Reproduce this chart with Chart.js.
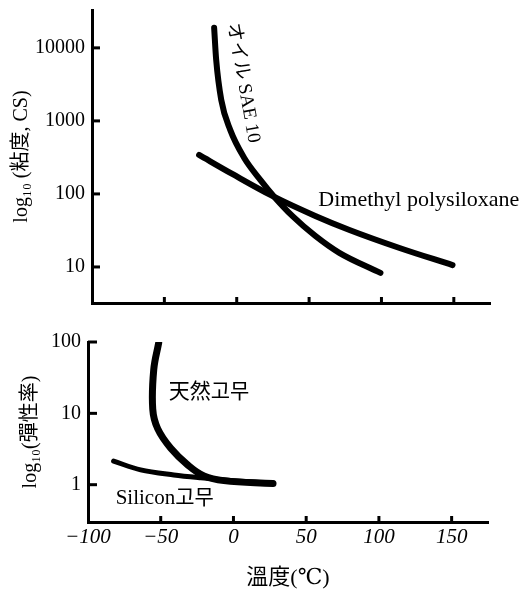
<!DOCTYPE html>
<html><head><meta charset="utf-8">
<script src="https://cdn.jsdelivr.net/npm/chart.js@4.4.0/dist/chart.umd.min.js"></script>
<style>html,body{margin:0;padding:0;background:#fff;} canvas{display:block;}</style>
</head><body>
<canvas id="top" width="526" height="312"></canvas>
<canvas id="bot" width="526" height="290"></canvas>
<script>
// ---- data ----
const xTicks = [-100, -50, 0, 50, 100, 150];
const viscTicks = [10, 100, 1000, 10000];
const elastTicks = [1, 10, 100];

const oilTemp = [-15.6, -14.2, -10.7, -4.5, 5.2, 16.3, 26.0, 38.4, 54.3, 70.9, 99.3];
const oilVisc = [18800, 6850, 1940, 754, 311, 156, 91, 50, 26.6, 15.6, 8.3];
const dmpsTemp = [-26.0, -3.1, 24.6, 54.3, 77.9, 112.5, 149.1];
const dmpsVisc = [342, 188, 94, 50, 32.1, 18.2, 10.6];
const rubberTemp = [-51.4, -54.8, -55.5, -52.1, -43.1, -31.4, -20.3, -6.6, 27.2];
const rubberMod = [97, 41, 11.5, 6.1, 3.24, 1.89, 1.33, 1.14, 1.04];
const siliconTemp = [-82.4, -63.8, -41.0, -22.4, 0.3, 27.2];
const siliconMod = [2.14, 1.61, 1.37, 1.25, 1.14, 1.04];

const topLabels = [
  {text: 'オイル SAE 10', x: 4.5, y: 3310, rot: 80, align: 'center', size: 19},
  {text: 'Dimethyl polysiloxane', x: 56.4, y: 83, rot: 0, align: 'left', size: 22}
];
const botLabels = [
  {text: '天然고무', x: -44.5, y: 19.8, rot: 0, align: 'left', size: 21},
  {text: 'Silicon고무', x: -81, y: 0.64, rot: 0, align: 'left', size: 21}
];

const SERIF = "'Liberation Serif', 'DejaVu Serif', 'Noto Sans CJK KR', serif";
Chart.defaults.color = '#000';
Chart.defaults.font.family = SERIF;

const pts = (xs, ys) => xs.map((v, i) => ({x: v, y: ys[i]}));

const inwardTicks = {
  id: 'inwardTicks',
  afterDraw(chart, args, opts) {
    const {ctx, chartArea: a, scales: {x, y}} = chart;
    ctx.save();
    ctx.strokeStyle = '#000';
    ctx.lineWidth = 3;
    y.ticks.forEach(t => {
      const py = y.getPixelForValue(t.value);
      ctx.beginPath(); ctx.moveTo(a.left, py); ctx.lineTo(a.left + opts.yLen, py); ctx.stroke();
    });
    x.ticks.forEach(t => {
      if (t.value === x.min) return;
      const px = x.getPixelForValue(t.value);
      ctx.beginPath(); ctx.moveTo(px, a.bottom); ctx.lineTo(px, a.bottom - opts.xLen); ctx.stroke();
    });
    ctx.restore();
  }
};

const textLabels = {
  id: 'textLabels',
  afterDatasetsDraw(chart, args, opts) {
    const {ctx, scales: {x, y}} = chart;
    ctx.save();
    ctx.fillStyle = '#000';
    opts.items.forEach(l => {
      const px = x.getPixelForValue(l.x), py = y.getPixelForValue(l.y);
      ctx.save();
      ctx.translate(px, py);
      ctx.rotate(l.rot * Math.PI / 180);
      ctx.font = l.size + 'px ' + SERIF;
      ctx.textAlign = l.align;
      ctx.textBaseline = 'middle';
      ctx.fillText(l.text, 0, 0);
      ctx.restore();
    });
    ctx.restore();
  }
};

function lineDs(data, w, mono) {
  const d = {data, borderColor: '#000', borderWidth: w, pointRadius: 0, tension: 0.4,
          borderCapStyle: 'round', fill: false};
  if (mono) d.cubicInterpolationMode = 'monotone';
  return d;
}

function xScale(showLabels, height, title) {
  return {
    type: 'linear', min: -100, max: 175,
    afterBuildTicks: s => { s.ticks = xTicks.map(v => ({value: v})); },
    afterFit: s => { s.height = height; },
    grid: {display: false, drawTicks: false},
    border: {display: true, color: '#000', width: 3},
    ticks: {display: showLabels, padding: 3, font: {size: 21, style: 'italic'},
            callback: v => (v < 0 ? '\u2212' + Math.abs(v) : '' + v)},
    title: title
  };
}

function yScale(min, max, ticks, width, titleText, titlePad) {
  return {
    type: 'logarithmic', min, max,
    afterBuildTicks: s => { s.ticks = ticks.map(v => ({value: v})); },
    afterFit: s => { s.width = width; s.paddingTop = 0; s.paddingBottom = 0; },
    grid: {display: false, drawTicks: false},
    border: {display: true, color: '#000', width: 3},
    ticks: {padding: 7, font: {size: 20, lineHeight: 1}, callback: v => '' + v},
    title: {display: true, text: titleText, font: {size: 20}, padding: {top: titlePad, bottom: 0}}
  };
}

new Chart(document.getElementById('top'), {
  type: 'line',
  data: {datasets: [lineDs(pts(oilTemp, oilVisc), 6, true), lineDs(pts(dmpsTemp, dmpsVisc), 6, true)]},
  options: {
    responsive: false, animation: false, devicePixelRatio: 1,
    layout: {padding: {top: 10, right: 36, bottom: 0, left: 0}},
    plugins: {legend: {display: false}, tooltip: {enabled: false},
              inwardTicks: {yLen: 8, xLen: 6}, textLabels: {items: topLabels}},
    scales: {
      x: xScale(false, 9, {display: false}),
      y: yScale(3.21, 33000, viscTicks, 92, 'log\u2081\u2080 (粘度, CS)', 10)
    }
  },
  plugins: [inwardTicks, textLabels]
});

new Chart(document.getElementById('bot'), {
  type: 'line',
  data: {datasets: [lineDs(pts(rubberTemp, rubberMod), 7, false), lineDs(pts(siliconTemp, siliconMod), 5, true)]},
  options: {
    responsive: false, animation: false, devicePixelRatio: 1,
    layout: {padding: {top: 30, right: 38, bottom: 0, left: 0}},
    plugins: {legend: {display: false}, tooltip: {enabled: false},
              inwardTicks: {yLen: 9, xLen: 6}, textLabels: {items: botLabels}},
    scales: {
      x: xScale(true, 80, {display: true, text: '溫度(℃)', font: {size: 22}, padding: {top: 0, bottom: 11}}),
      y: yScale(0.33, 100, elastTicks, 88, 'log\u2081\u2080(彈性率)', 19)
    }
  },
  plugins: [inwardTicks, textLabels]
});
</script>
</body></html>
